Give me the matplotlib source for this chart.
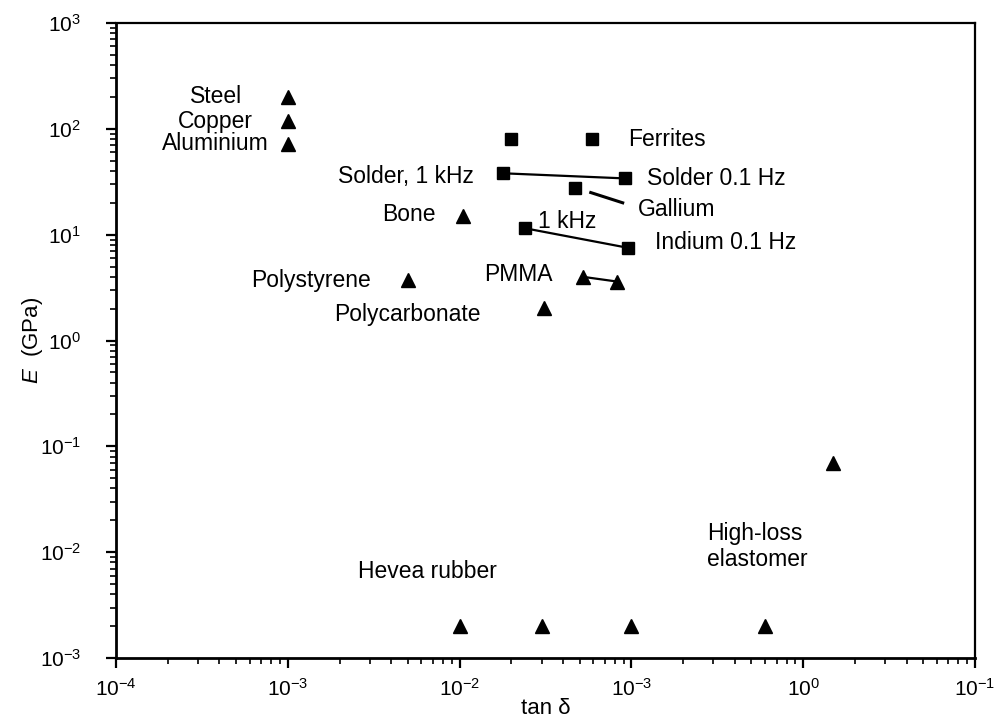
import matplotlib
matplotlib.use("Agg")
import matplotlib.pyplot as plt
from matplotlib.ticker import LogLocator, FixedLocator, NullFormatter

plt.rcParams['font.family'] = ['Liberation Sans', 'DejaVu Sans']
plt.rcParams['mathtext.fontset'] = 'custom'
plt.rcParams['mathtext.rm'] = 'Liberation Sans'
plt.rcParams['mathtext.it'] = 'Liberation Sans:italic'

# ---- data: loss tangent (tan delta) and Young's modulus E (GPa) ----
metals_tan = [1e-3, 1e-3, 1e-3]
metals_E = [200, 118, 72]
metals_names = ["Steel", "Copper", "Aluminium"]

ferrites_tan = [0.020, 0.059]
ferrites_E = [80, 80]

solder_tan = [0.018, 0.092]          # 1 kHz, 0.1 Hz
solder_E = [38, 34]

gallium_tan = [0.047]
gallium_E = [27.5]
gallium_trend_tan = [0.058, 0.089]
gallium_trend_E = [25, 20]

indium_tan = [0.024, 0.096]          # 1 kHz, 0.1 Hz
indium_E = [11.5, 7.5]

bone_tan = [0.0105]
bone_E = [15]

polystyrene_tan = [0.005]
polystyrene_E = [3.7]

pmma_tan = [0.052, 0.083]
pmma_E = [4.0, 3.6]

polycarbonate_tan = [0.031]
polycarbonate_E = [2.05]

elastomer_tan = [1.5]
elastomer_E = [0.07]

hevea_tan = [0.01, 0.03, 0.1, 0.6]
hevea_E = [0.002, 0.002, 0.002, 0.002]

x_tick_values = [1e-4, 1e-3, 1e-2, 1e-1, 1e0, 1e1]
x_tick_labels = [r'$\mathregular{10^{-4}}$', r'$\mathregular{10^{-3}}$',
                 r'$\mathregular{10^{-2}}$', r'$\mathregular{10^{-3}}$',
                 r'$\mathregular{10^{0}}$', r'$\mathregular{10^{-1}}$']
y_tick_values = [1e-3, 1e-2, 1e-1, 1e0, 1e1, 1e2, 1e3]
y_tick_labels = [r'$\mathregular{10^{-3}}$', r'$\mathregular{10^{-2}}$',
                 r'$\mathregular{10^{-1}}$', r'$\mathregular{10^{0}}$',
                 r'$\mathregular{10^{1}}$', r'$\mathregular{10^{2}}$',
                 r'$\mathregular{10^{3}}$']

# ---- figure ----
fig = plt.figure(figsize=(10.07, 7.2), dpi=100)
ax = fig.add_axes([116 / 1007, 1 - 658 / 720, (975 - 116) / 1007, (658 - 23) / 720])
ax.set_xscale('log')
ax.set_yscale('log')
ax.set_xlim(1e-4, 1e1)
ax.set_ylim(1e-3, 1e3)

tri = dict(marker='^', markersize=10, color='black', linestyle='none')
sq = dict(marker='s', markersize=8.5, color='black', linestyle='none')
pair = dict(color='black', linewidth=1.6)

ax.plot(metals_tan, metals_E, **tri)
ax.plot(ferrites_tan, ferrites_E, **sq)
ax.plot(solder_tan, solder_E, marker='s', markersize=8.5, **pair)
ax.plot(gallium_tan, gallium_E, **sq)
ax.plot(gallium_trend_tan, gallium_trend_E, color='black', linewidth=2.2)
ax.plot(indium_tan, indium_E, marker='s', markersize=8.5, **pair)
ax.plot(bone_tan, bone_E, **tri)
ax.plot(polystyrene_tan, polystyrene_E, **tri)
ax.plot(pmma_tan, pmma_E, marker='^', markersize=10, **pair)
ax.plot(polycarbonate_tan, polycarbonate_E, **tri)
ax.plot(elastomer_tan, elastomer_E, **tri)
ax.plot(hevea_tan, hevea_E, **tri)

fs = 16.5


def label(text, x, y, dx, dy, ha='left', **kw):
    ax.annotate(text, xy=(x, y), xytext=(dx, -dy), textcoords='offset pixels',
                ha=ha, va='center', fontsize=fs, **kw)


for name, t, e in zip(metals_names, metals_tan, metals_E):
    label(name, t, e, -72, 0, ha='center')

label("Ferrites", ferrites_tan[1], ferrites_E[1], 36, 0)
label("Solder, 1 kHz", solder_tan[0], solder_E[0], -30, 3, ha='right')
label("Solder 0.1 Hz", solder_tan[1], solder_E[1], 22, 0)
label("Gallium", gallium_trend_tan[1], gallium_trend_E[1], 15, 7)
label("1 kHz", indium_tan[0], indium_E[0], 13, -7)
label("Indium 0.1 Hz", indium_tan[1], indium_E[1], 27, -5)
label("PMMA", pmma_tan[0], pmma_E[0], -30, -2, ha='right')
label("Bone", bone_tan[0], bone_E[0], -28, -2, ha='right')
label("Polystyrene", polystyrene_tan[0], polystyrene_E[0], -37, 0, ha='right')
label("Polycarbonate", polycarbonate_tan[0], polycarbonate_E[0], -63, 7, ha='right')
label("Hevea rubber", hevea_tan[0], hevea_E[0], -102, -55)
label("High-loss\nelastomer", elastomer_tan[0], elastomer_E[0], -126, 84,
      multialignment='left', linespacing=1.15)

# ---- axes styling ----
for side in ['left', 'bottom']:
    ax.spines[side].set_linewidth(2.0)
for side in ['top', 'right']:
    ax.spines[side].set_linewidth(1.6)

ax.xaxis.set_major_locator(FixedLocator(x_tick_values))
ax.set_xticklabels(x_tick_labels)
ax.yaxis.set_major_locator(FixedLocator(y_tick_values))
ax.set_yticklabels(y_tick_labels)
ax.xaxis.set_minor_locator(LogLocator(base=10, subs=range(2, 10), numticks=20))
ax.yaxis.set_minor_locator(LogLocator(base=10, subs=range(2, 10), numticks=20))
ax.xaxis.set_minor_formatter(NullFormatter())
ax.yaxis.set_minor_formatter(NullFormatter())

ax.tick_params(which='major', direction='out', length=7, width=1.6,
               labelsize=15, top=False, right=False)
ax.tick_params(which='minor', direction='out', length=4, width=1.2,
               top=False, right=False)
ax.tick_params(axis='x', which='major', pad=7)
ax.tick_params(axis='y', which='major', pad=18)

ax.set_xlabel('tan δ', fontsize=16, labelpad=-1)
ax.set_ylabel(r'$\it{E}$  (GPa)', fontsize=16)
ax.yaxis.set_label_coords(-0.083, 0.5)

fig.savefig('out.png', dpi=100)
